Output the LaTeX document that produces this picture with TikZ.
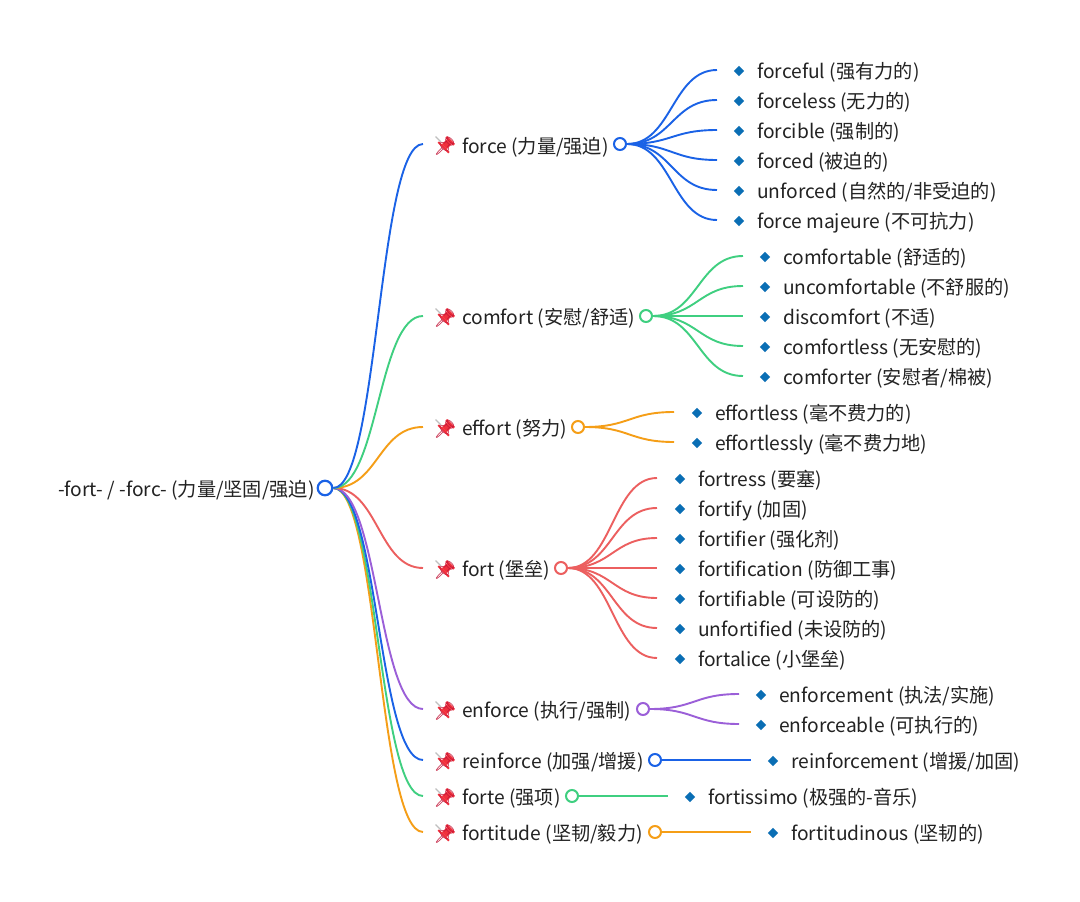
\documentclass[tikz,border=0pt]{standalone}
\usepackage{fontspec}
\setmainfont{Noto Sans CJK SC}
\newfontfamily\pinfont{Noto Emoji}
\usetikzlibrary{calc,shapes.geometric}
\definecolor{mapblue}{HTML}{1A62E6}
\definecolor{mapgreen}{HTML}{3FCF80}
\definecolor{maporange}{HTML}{F59E17}
\definecolor{mapred}{HTML}{EC5F5F}
\definecolor{mappurple}{HTML}{9B5FD8}
\definecolor{leafblue}{HTML}{0A6EB4}
\definecolor{inkgray}{HTML}{222222}
\definecolor{pinred}{HTML}{F0303C}
\definecolor{pindark}{HTML}{C2183A}
\tikzset{
  label/.style={anchor=west, inner sep=0pt, yshift=-1.5pt, text=inkgray, font=\fontsize{19.2}{23}\selectfont},
  pin/.style={inner sep=0pt, text=pindark, font=\pinfont\fontsize{18}{21}\selectfont},
  pinmark/.pic={
    \begin{scope}[rotate=45]
    \fill[pinred] (-3,-7.5) rectangle (-1,7.5);
    \fill[pinred] (-1,-3.5) rectangle (6,3.5);
    \fill[pinred] (6,-5.5) rectangle (8.5,5.5);
    \end{scope}
    \node[pin] (-glyph) at (0,0) {📌};
    \draw[lightgray, line width=1.2pt] (-9.5,-9.5) -- (-4,-4);
  },
  leafmark/.style={diamond, fill=leafblue, inner sep=0pt, minimum size=10.5pt},
  rootdot/.style={circle, draw=mapblue, fill=white, line width=2.2pt, inner sep=0pt, minimum size=14.5pt},
  dot/.style={circle, draw=#1, fill=white, line width=2pt, inner sep=0pt, minimum size=12pt},
  link/.style={draw=#1, line width=1.9pt, to path={
    .. controls ($(\tikztostart)!.5!(\tikztotarget|-\tikztostart)$)
    and ($(\tikztotarget)!.5!(\tikztostart|-\tikztotarget)$) .. (\tikztotarget)}},
}
\begin{document}
\begin{tikzpicture}[x=1pt,y=-1pt]
\useasboundingbox (0,0) rectangle (1080,902);
\fill[white] (0,0) rectangle (1080,902);
% root
\node[label] (root) at (58,489) {-fort- / -forc- (力量/坚固/强迫)};
\node[rootdot] (rootc) at (325,488) {};
% main branches
\coordinate (forceend) at (423,144);
\coordinate (comfortend) at (423,316);
\coordinate (effortend) at (423,427);
\coordinate (fortend) at (423,568);
\coordinate (enforceend) at (423,709);
\coordinate (reinforceend) at (423,760);
\coordinate (forteend) at (423,796);
\coordinate (fortitudeend) at (423,832);
\draw[link=maporange] (rootc.east) to (fortitudeend);
\draw[link=mapgreen] (rootc.east) to (forteend);
\draw[link=mapblue] (rootc.east) to (reinforceend);
\draw[link=mappurple] (rootc.east) to (enforceend);
\draw[link=mapred] (rootc.east) to (fortend);
\draw[link=maporange] (rootc.east) to (effortend);
\draw[link=mapgreen] (rootc.east) to (comfortend);
\draw[link=mapblue] (rootc.east) to (forceend);
% force
\pic (forcepin) at (445,146) {pinmark};
\node[label] (force) at (462,146) {force (力量/强迫)};
\node[dot=mapblue] (forcec) at (620,144) {};
\coordinate (forcea) at (717,70);
\coordinate (forceb) at (717,100);
\coordinate (forced) at (717,130);
\coordinate (forcee) at (717,160);
\coordinate (forcef) at (717,190);
\coordinate (forceg) at (717,220);
\draw[link=mapblue] (forcec.east) to (forcea);
\draw[link=mapblue] (forcec.east) to (forceb);
\draw[link=mapblue] (forcec.east) to (forced);
\draw[link=mapblue] (forcec.east) to (forcee);
\draw[link=mapblue] (forcec.east) to (forcef);
\draw[link=mapblue] (forcec.east) to (forceg);
\node[leafmark] (forcema) at (739,71) {};
\node[label] (forceful) at (757,71) {forceful (强有力的)};
\node[leafmark] (forcemb) at (739,101) {};
\node[label] (forceless) at (757,101) {forceless (无力的)};
\node[leafmark] (forcemd) at (739,131) {};
\node[label] (forcible) at (757,131) {forcible (强制的)};
\node[leafmark] (forceme) at (739,161) {};
\node[label] (forcedw) at (757,161) {forced (被迫的)};
\node[leafmark] (forcemf) at (739,191) {};
\node[label] (unforced) at (757,191) {unforced (自然的/非受迫的)};
\node[leafmark] (forcemg) at (739,221) {};
\node[label] (majeure) at (757,221) {force majeure (不可抗力)};
% comfort
\pic (comfortpin) at (445,318) {pinmark};
\node[label] (comfort) at (462,317) {comfort (安慰/舒适)};
\node[dot=mapgreen] (comfortc) at (646,316) {};
\coordinate (comforta) at (743,256);
\coordinate (comfortb) at (743,286);
\coordinate (comfortd) at (743,316);
\coordinate (comforte) at (743,346);
\coordinate (comfortf) at (743,376);
\draw[link=mapgreen] (comfortc.east) to (comforta);
\draw[link=mapgreen] (comfortc.east) to (comfortb);
\draw[link=mapgreen] (comfortc.east) to (comfortd);
\draw[link=mapgreen] (comfortc.east) to (comforte);
\draw[link=mapgreen] (comfortc.east) to (comfortf);
\node[leafmark] (comfortma) at (765,257) {};
\node[label] (comfortable) at (783,257) {comfortable (舒适的)};
\node[leafmark] (comfortmb) at (765,287) {};
\node[label] (uncomfortable) at (783,287) {uncomfortable (不舒服的)};
\node[leafmark] (comfortmd) at (765,317) {};
\node[label] (discomfort) at (783,317) {discomfort (不适)};
\node[leafmark] (comfortme) at (765,347) {};
\node[label] (comfortless) at (783,347) {comfortless (无安慰的)};
\node[leafmark] (comfortmf) at (765,377) {};
\node[label] (comforter) at (783,377) {comforter (安慰者/棉被)};
% effort
\pic (effortpin) at (445,429) {pinmark};
\node[label] (effort) at (462,428) {effort (努力)};
\node[dot=maporange] (effortc) at (578,427) {};
\coordinate (efforta) at (674,412);
\coordinate (effortb) at (674,442);
\draw[link=maporange] (effortc.east) to (efforta);
\draw[link=maporange] (effortc.east) to (effortb);
\node[leafmark] (effortma) at (697,413) {};
\node[label] (effortless) at (715,413) {effortless (毫不费力的)};
\node[leafmark] (effortmb) at (697,443) {};
\node[label] (effortlessly) at (715,443) {effortlessly (毫不费力地)};
% fort
\pic (fortpin) at (445,570) {pinmark};
\node[label] (fort) at (462,569) {fort (堡垒)};
\node[dot=mapred] (fortc) at (561,568) {};
\coordinate (forta) at (657,478);
\coordinate (fortb) at (657,508);
\coordinate (fortd) at (657,538);
\coordinate (forte) at (657,568);
\coordinate (fortf) at (657,598);
\coordinate (fortg) at (657,628);
\coordinate (forth) at (657,658);
\draw[link=mapred] (fortc.east) to (forta);
\draw[link=mapred] (fortc.east) to (fortb);
\draw[link=mapred] (fortc.east) to (fortd);
\draw[link=mapred] (fortc.east) to (forte);
\draw[link=mapred] (fortc.east) to (fortf);
\draw[link=mapred] (fortc.east) to (fortg);
\draw[link=mapred] (fortc.east) to (forth);
\node[leafmark] (fortma) at (680,479) {};
\node[label] (fortress) at (698,479) {fortress (要塞)};
\node[leafmark] (fortmb) at (680,509) {};
\node[label] (fortify) at (698,509) {fortify (加固)};
\node[leafmark] (fortmd) at (680,539) {};
\node[label] (fortifier) at (698,539) {fortifier (强化剂)};
\node[leafmark] (fortme) at (680,569) {};
\node[label] (fortification) at (698,569) {fortification (防御工事)};
\node[leafmark] (fortmf) at (680,599) {};
\node[label] (fortifiable) at (698,599) {fortifiable (可设防的)};
\node[leafmark] (fortmg) at (680,629) {};
\node[label] (unfortified) at (698,629) {unfortified (未设防的)};
\node[leafmark] (fortmh) at (680,659) {};
\node[label] (fortalice) at (698,659) {fortalice (小堡垒)};
% enforce
\pic (enforcepin) at (445,711) {pinmark};
\node[label] (enforce) at (462,710) {enforce (执行/强制)};
\node[dot=mappurple] (enforcec) at (643,709) {};
\coordinate (enforcea) at (739,694);
\coordinate (enforceb) at (739,724);
\draw[link=mappurple] (enforcec.east) to (enforcea);
\draw[link=mappurple] (enforcec.east) to (enforceb);
\node[leafmark] (enforcema) at (761,695) {};
\node[label] (enforcement) at (779,695) {enforcement (执法/实施)};
\node[leafmark] (enforcemb) at (761,725) {};
\node[label] (enforceable) at (779,725) {enforceable (可执行的)};
% reinforce
\pic (reinforcepin) at (445,762) {pinmark};
\node[label] (reinforce) at (462,761) {reinforce (加强/增援)};
\node[dot=mapblue] (reinforcec) at (655,760) {};
\coordinate (reinforcea) at (751,760);
\draw[link=mapblue] (reinforcec.east) to (reinforcea);
\node[leafmark] (reinforcema) at (773,761) {};
\node[label] (reinforcement) at (791,761) {reinforcement (增援/加固)};
% forte
\pic (fortepin) at (445,798) {pinmark};
\node[label] (fortew) at (462,797) {forte (强项)};
\node[dot=mapgreen] (fortewc) at (572,796) {};
\coordinate (fortewa) at (668,796);
\draw[link=mapgreen] (fortewc.east) to (fortewa);
\node[leafmark] (fortewma) at (690,797) {};
\node[label] (fortissimo) at (708,797) {fortissimo (极强的-音乐)};
% fortitude
\pic (fortitudepin) at (445,834) {pinmark};
\node[label] (fortitude) at (462,833) {fortitude (坚韧/毅力)};
\node[dot=maporange] (fortitudec) at (655,832) {};
\coordinate (fortitudea) at (751,832);
\draw[link=maporange] (fortitudec.east) to (fortitudea);
\node[leafmark] (fortitudema) at (773,833) {};
\node[label] (fortitudinous) at (791,833) {fortitudinous (坚韧的)};
\end{tikzpicture}
\end{document}
